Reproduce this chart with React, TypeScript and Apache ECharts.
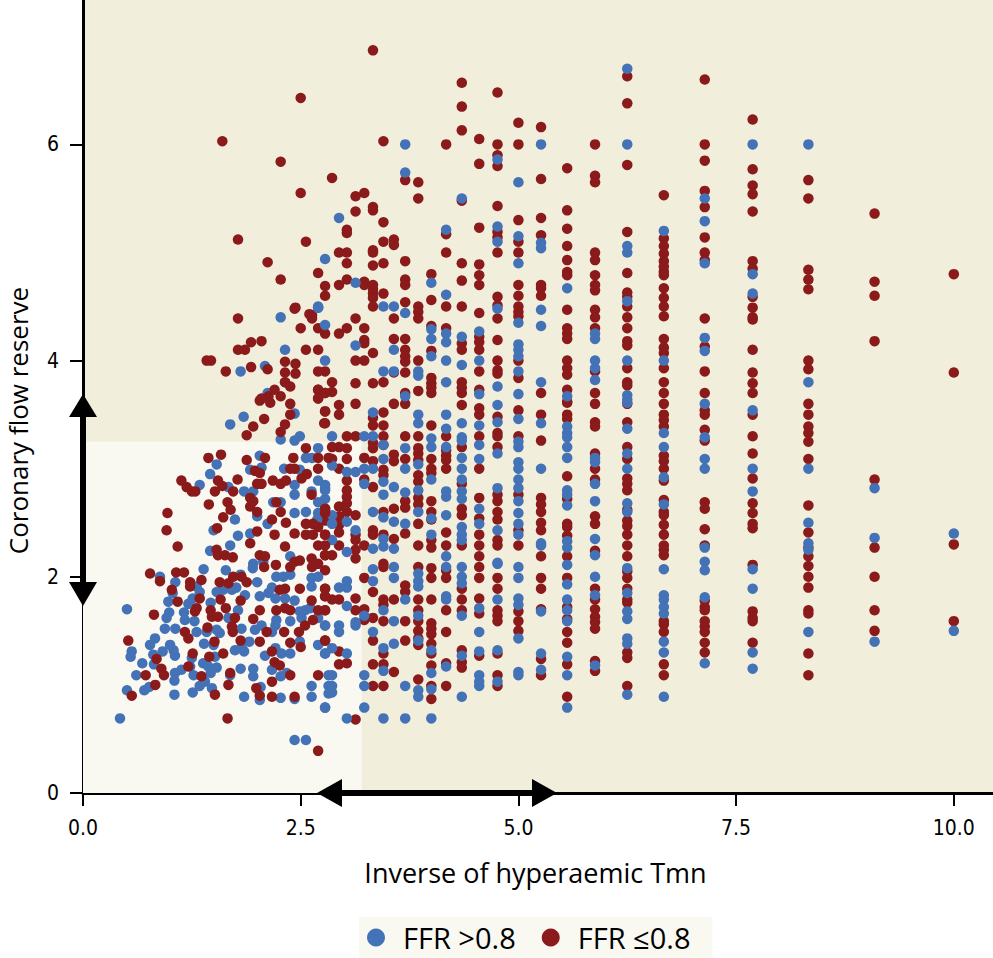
import React, { useEffect, useRef } from "react";
import * as echarts from "echarts";

const columnX = [10, 9.09, 8.33, 7.69, 7.14, 6.67, 6.25, 5.88, 5.56, 5.26, 5, 4.76, 4.55, 4.35, 4.17, 4, 3.85, 3.7, 3.57, 3.45, 3.33, 3.23, 3.13, 3.03, 2.94, 2.86, 2.78, 2.7, 2.63, 2.56, 2.5, 2.44];

const redByColumn = [
  [4.8, 3.89, 2.3, 1.59],
  [5.36, 4.73, 4.6, 4.18, 2.9, 2.27, 2.0, 1.69, 1.5],
  [5.67, 5.5, 4.84, 4.75, 4.66, 4.0, 3.92, 3.6, 3.5, 3.39, 3.33, 3.25, 3.09, 2.66, 2.41, 2.27, 2.19, 2.1, 2.0, 1.9, 1.69, 1.66, 1.29, 1.09],
  [6.23, 5.77, 5.62, 5.54, 5.38, 4.92, 4.85, 4.59, 4.49, 4.4, 4.38, 4.1, 3.89, 3.79, 3.7, 3.5, 3.3, 3.14, 2.91, 2.68, 2.59, 2.49, 2.45, 2.11, 1.68, 1.62, 1.59, 1.39],
  [6.6, 6.0, 5.85, 5.57, 5.42, 5.14, 5.0, 4.93, 4.39, 4.13, 3.9, 3.7, 3.54, 3.5, 3.36, 3.26, 2.69, 2.63, 2.44, 2.29, 1.78, 1.72, 1.69, 1.59, 1.54, 1.49, 1.39, 1.3],
  [5.53, 5.13, 5.06, 4.99, 4.92, 4.87, 4.82, 4.79, 4.67, 4.58, 4.5, 4.41, 4.2, 4.12, 4.07, 3.93, 3.8, 3.7, 3.6, 3.5, 3.45, 3.39, 3.12, 3.07, 3.0, 2.89, 2.71, 2.6, 2.57, 2.48, 2.39, 2.29, 2.25, 2.2, 1.59, 1.56, 1.49, 1.19, 1.09],
  [6.63, 6.38, 5.81, 5.19, 4.81, 4.63, 4.59, 4.5, 4.4, 4.3, 4.18, 4.14, 3.93, 3.8, 3.77, 3.6, 3.43, 3.2, 3.09, 2.91, 2.86, 2.8, 2.62, 2.52, 2.47, 2.39, 2.29, 2.19, 2.05, 1.99, 1.89, 1.79, 1.76, 1.3, 1.25, 0.99],
  [6.0, 5.71, 5.65, 5.0, 4.93, 4.79, 4.7, 4.65, 4.47, 4.4, 4.3, 3.9, 3.7, 3.6, 3.43, 3.39, 3.14, 3.0, 2.9, 2.56, 2.49, 2.24, 1.89, 1.79, 1.7, 1.63, 1.58, 1.52, 1.22, 1.13],
  [5.78, 5.39, 5.22, 5.06, 4.93, 4.82, 4.79, 4.47, 4.3, 4.25, 4.2, 4.0, 3.93, 3.87, 3.73, 3.62, 3.61, 3.5, 3.46, 2.93, 2.72, 2.49, 2.46, 2.38, 2.19, 1.99, 1.72, 1.61, 1.49, 1.39, 1.19, 0.89],
  [6.16, 5.68, 5.32, 5.16, 4.7, 4.67, 4.6, 3.7, 3.5, 3.26, 2.73, 2.67, 2.6, 2.5, 2.43, 2.19, 1.99, 1.89, 1.7, 1.24, 1.09],
  [6.2, 6.0, 5.3, 5.1, 5.0, 4.7, 4.6, 4.5, 4.45, 4.41, 4.0, 3.84, 3.54, 3.3, 2.76, 2.43, 2.29, 1.68, 1.59, 1.5],
  [6.48, 6.0, 5.9, 5.8, 5.43, 5.19, 5.14, 5.0, 4.59, 4.51, 4.39, 4.19, 4.0, 3.91, 3.88, 3.48, 3.33, 3.3, 3.2, 2.76, 2.7, 2.6, 2.53, 2.34, 2.29, 1.99, 1.89, 1.69, 1.64, 1.59, 1.29, 1.09, 0.99],
  [6.05, 5.82, 5.23, 4.89, 4.79, 4.7, 4.44, 4.22, 4.17, 4.1, 3.9, 3.73, 3.56, 3.5, 3.3, 3.0, 2.73, 2.54, 2.39, 2.29, 2.19, 2.09, 1.99, 1.8, 1.66, 1.27],
  [6.57, 6.35, 6.13, 5.48, 4.9, 4.74, 4.5, 4.16, 4.1, 3.8, 3.75, 3.7, 3.59, 3.2, 2.86, 2.63, 2.57, 2.29, 1.89, 1.79, 1.69, 1.32, 1.21, 1.16],
  [6.0, 5.17, 5.0, 4.5, 4.3, 3.3, 3.17, 3.12, 3.08, 3.0, 2.41, 2.29, 2.06, 1.99, 1.69, 1.49, 1.2, 0.99],
  [4.8, 4.56, 4.32, 4.09, 3.84, 3.79, 3.75, 3.7, 3.4, 3.09, 3.0, 2.96, 2.7, 2.6, 2.53, 2.34, 2.27, 2.08, 1.99, 1.79, 1.57, 1.52, 1.47, 1.38, 1.29, 1.18, 0.99, 0.87],
  [5.65, 5.5, 4.5, 4.45, 4.39, 4.0, 3.72, 3.3, 3.19, 3.14, 3.08, 2.94, 2.88, 2.73, 2.67, 2.49, 2.29, 2.09, 1.79, 1.69, 1.59, 1.5, 1.43, 1.37, 1.05],
  [5.67, 4.92, 4.75, 4.7, 4.54, 4.2, 4.1, 4.04, 3.99, 3.89, 3.7, 3.6, 3.3, 3.09, 2.7, 2.64, 2.4, 1.92, 1.86, 1.59, 1.41],
  [5.12, 5.07, 4.39, 4.2, 3.89, 3.6, 3.13, 3.07, 2.63, 2.35, 1.79, 1.12],
  [6.03, 5.28, 5.1, 4.9, 4.62, 3.8, 3.52, 3.4, 3.3, 3.22, 2.99, 2.94, 2.6, 2.39, 2.12, 2.09, 1.79, 1.74, 1.59, 1.29, 1.19, 0.99],
  [6.87, 5.42, 5.39, 5.02, 5.0, 4.88, 4.7, 4.66, 4.62, 4.58, 4.5, 4.07, 3.79, 3.47, 3.4, 3.24, 3.19, 3.07, 2.83, 2.43, 2.39, 1.86, 1.62, 1.41, 1.19, 0.99],
  [5.55, 4.73, 4.7, 4.3, 4.19, 4.16, 4.0, 3.1, 2.9, 2.29, 1.99, 1.7, 1.6],
  [5.52, 5.38, 4.39, 4.0, 3.79, 3.6, 3.3, 2.57, 2.39, 2.34, 2.25, 2.17, 1.8, 1.69, 0.68],
  [5.21, 5.18, 5.0, 4.9, 4.75, 4.3, 3.3, 3.19, 3.09, 2.89, 2.8, 2.74, 2.68, 2.6, 1.2],
  [5.0, 4.7, 4.25, 3.59, 3.5, 3.2, 3.0, 2.65, 2.56, 2.48, 2.41, 2.29, 1.79, 1.31, 1.19],
  [5.69, 3.8, 3.71, 3.2, 3.09, 2.2, 1.79],
  [4.69, 4.6, 4.25, 3.9, 3.7, 3.53, 3.42, 2.63, 2.6, 2.52, 2.39, 2.2, 2.06, 1.89, 1.82, 1.69, 1.41],
  [4.81, 4.3, 4.1, 3.9, 3.73, 3.65],
  [4.42, 4.39],
  [5.1, 4.1],
  [6.43, 5.55, 4.3],
  [4.49, 3.97, 3.88],
];

const blueByColumn = [
  [2.4, 1.5],
  [2.82, 2.36, 1.4],
  [6.0, 3.8, 3.0, 2.5, 2.31, 2.25, 1.49],
  [6.0, 4.8, 4.62, 3.54, 3.0, 2.79, 2.07, 1.89, 1.3, 1.15],
  [5.5, 5.29, 4.9, 4.21, 4.09, 3.6, 3.29, 3.09, 3.0, 2.27, 2.14, 2.06, 1.81, 1.2],
  [5.2, 4.0, 3.33, 3.2, 2.92, 2.67, 2.07, 1.83, 1.79, 1.72, 1.66, 1.4, 1.3, 0.89],
  [6.7, 6.0, 5.06, 5.0, 4.55, 4.0, 3.68, 3.64, 3.61, 3.37, 3.14, 3.0, 2.68, 2.6, 2.08, 1.85, 1.68, 1.61, 1.43, 1.38, 0.91],
  [4.25, 4.2, 4.0, 3.93, 3.82, 3.1, 3.06, 2.86, 2.7, 2.35, 2.2, 2.0, 1.83, 1.18],
  [4.67, 3.67, 3.39, 3.33, 3.29, 3.2, 3.1, 2.8, 2.76, 2.66, 2.33, 2.27, 2.11, 1.93, 1.79, 1.69, 1.59, 1.26, 1.09, 0.79],
  [6.0, 5.09, 5.04, 4.47, 4.32, 3.8, 3.42, 3.0, 2.31, 2.29, 1.68, 1.29, 1.14],
  [5.65, 5.15, 4.9, 4.35, 4.15, 4.1, 4.04, 3.9, 3.69, 3.46, 3.25, 3.2, 3.06, 3.0, 2.9, 2.82, 2.7, 2.59, 2.49, 2.39, 2.09, 1.99, 1.8, 1.74, 1.43, 1.12, 1.09],
  [5.86, 5.24, 5.1, 4.48, 3.76, 3.59, 3.43, 3.14, 2.82, 2.43, 2.13, 2.12, 1.79, 1.32, 1.03],
  [4.27, 4.0, 3.69, 3.4, 3.22, 3.09, 2.63, 2.49, 1.71, 1.49, 1.31, 1.09, 1.03, 0.99],
  [5.5, 4.22, 3.96, 3.42, 3.29, 3.26, 3.1, 3.0, 2.9, 2.79, 2.72, 2.46, 2.39, 2.34, 2.09, 2.0, 1.94, 1.64, 1.27, 0.89],
  [5.21, 4.61, 4.25, 4.17, 4.0, 3.8, 3.5, 3.37, 3.2, 2.79, 2.74, 2.57, 2.19, 2.09, 1.82, 1.79, 1.17],
  [4.72, 4.29, 4.2, 4.04, 3.28, 3.2, 2.9, 2.54, 2.39, 1.32, 1.11, 0.96, 0.69],
  [3.9, 3.86, 3.5, 3.42, 3.04, 2.8, 2.6, 2.03, 1.96, 1.91, 1.64, 1.41, 0.95, 0.89],
  [6.0, 5.74, 4.44, 3.67, 3.19, 3.0, 2.78, 2.49, 1.79, 0.99, 0.69],
  [4.5, 4.1, 3.9, 2.83, 2.51, 2.26, 2.09, 1.99, 1.59, 1.38],
  [4.5, 3.9, 3.22, 3.09, 2.88, 2.76, 2.55, 2.35, 2.28, 1.69, 1.34, 1.13, 0.69],
  [3.52, 3.3, 3.0, 2.6, 2.26, 2.07, 1.96, 1.49],
  [3.3, 3.0, 2.86, 1.64, 1.09, 0.99, 0.79],
  [4.72, 4.14, 2.97, 2.43, 1.58, 1.55],
  [2.97, 2.51, 2.23, 1.96, 1.9, 1.73, 1.29, 0.69],
  [5.32, 1.9, 1.55, 1.49],
  [3.3, 3.03, 2.57, 2.49, 2.34, 1.34, 1.09, 0.99, 0.93],
  [4.94, 4.33, 4.0, 2.85, 2.8, 2.72, 1.55, 1.29, 0.79],
  [4.5, 4.49],
  [],
  [],
  [],
  [],
];

const redLeft = [
  [0.56, 0.9], [0.52, 1.41], [0.815, 1.65], [0.72, 1.09], [0.83, 1.0], [0.845, 1.24], [0.9, 1.15], [0.93, 1.09], [0.77, 2.03], [0.884, 1.96],
  [1.07, 2.04], [1.16, 2.04], [0.97, 2.59], [0.96, 2.43], [1.087, 2.28], [1.13, 2.89], [1.19, 2.83], [1.25, 2.79], [1.29, 2.79], [1.02, 1.88],
  [1.087, 1.77], [1.23, 1.95], [1.23, 1.91], [1.36, 1.97], [1.34, 1.8], [1.305, 1.71], [1.286, 1.68], [1.17, 1.49], [1.21, 1.43], [1.26, 1.29],
  [1.21, 1.17], [1.36, 1.08], [1.515, 0.91], [1.67, 1.0], [1.69, 1.11], [1.45, 1.26], [1.51, 1.4], [1.43, 1.53], [1.61, 1.29], [1.466, 1.69],
  [1.48, 1.63], [1.55, 1.63], [1.58, 1.79], [1.64, 1.71], [1.57, 1.95], [1.67, 1.94], [1.725, 2.0], [1.82, 2.0], [1.88, 1.95], [1.81, 1.78],
  [1.745, 1.62], [1.71, 1.54], [1.72, 1.49], [1.81, 1.41], [2.03, 1.4], [1.44, 3.1], [1.585, 3.13], [1.55, 2.89], [1.6, 2.84], [1.515, 2.79],
  [1.725, 2.79], [1.775, 2.9], [1.445, 2.67], [1.66, 2.69], [1.695, 2.62], [1.61, 2.55], [1.54, 2.45], [1.535, 2.25], [1.55, 2.2], [1.63, 2.2],
  [1.72, 2.18], [1.88, 3.08], [2.09, 3.1], [1.975, 2.98], [2.03, 2.96], [2.0, 2.86], [2.05, 2.86], [2.18, 2.89], [2.27, 2.86], [2.33, 2.89],
  [1.92, 2.73], [1.955, 2.7], [1.92, 2.65], [2.0, 2.6], [2.22, 2.69], [2.27, 2.6], [2.17, 2.53], [2.33, 2.5], [2.0, 2.42], [2.2, 2.39],
  [2.43, 2.4], [1.92, 2.31], [2.32, 2.28], [2.03, 2.2], [2.09, 2.19], [2.08, 2.09], [2.215, 2.11], [2.38, 2.09], [2.43, 2.14], [2.49, 2.15],
  [2.625, 2.17], [2.7, 2.12], [2.63, 2.09], [2.78, 2.2], [2.32, 1.89], [2.26, 1.88], [2.49, 1.89], [2.78, 1.89], [2.78, 1.82], [2.625, 1.78],
  [2.22, 1.69], [2.32, 1.71], [2.38, 1.69], [2.7, 1.69], [2.78, 1.69], [1.955, 1.61], [2.03, 1.69], [2.11, 1.49], [2.31, 1.49], [2.48, 1.49],
  [2.55, 1.55], [2.64, 1.6], [2.78, 1.41], [2.38, 1.39], [2.5, 1.35], [2.17, 1.31], [2.2, 1.21], [2.26, 1.18], [2.38, 1.09], [2.17, 1.03],
  [1.99, 0.97], [2.03, 0.9], [2.17, 0.89], [2.43, 0.89], [2.7, 1.09], [1.66, 0.69], [2.7, 0.39], [2.03, 3.63], [2.13, 3.67], [2.27, 3.67],
  [2.38, 3.76], [2.38, 3.6], [2.38, 3.5], [2.08, 3.46], [2.32, 3.41], [1.955, 3.39], [1.88, 3.31], [2.27, 3.34], [2.7, 3.73], [2.7, 3.65],
  [2.78, 3.7], [2.78, 3.53], [2.77, 3.42], [2.56, 3.19], [2.415, 3.1], [2.7, 3.1], [2.82, 3.1], [2.7, 3.0], [2.38, 3.0], [2.43, 3.0],
  [2.51, 2.91], [2.57, 2.95], [2.625, 2.76], [2.78, 2.63], [2.78, 2.59], [2.56, 2.49], [2.64, 2.49], [2.7, 2.46], [2.56, 2.39], [2.64, 2.39],
  [2.78, 2.39], [2.7, 2.29], [2.78, 2.29], [1.6, 6.03], [2.27, 5.84], [1.78, 5.12], [2.12, 4.91], [2.27, 4.75], [1.78, 4.39], [1.93, 4.17],
  [2.05, 4.18], [1.42, 4.0], [1.47, 4.0], [1.64, 3.9], [1.78, 4.1], [1.86, 4.1], [1.93, 3.94], [2.12, 3.92], [2.32, 3.99], [2.32, 3.89],
  [2.32, 3.8], [2.43, 4.48], [2.6, 4.43], [2.05, 3.65], [2.15, 3.61], [2.2, 3.73],
];

const blueLeft = [
  [0.425, 0.69], [0.505, 1.7], [0.505, 0.95], [0.559, 1.31], [0.547, 1.26], [0.681, 1.2], [0.612, 1.09], [0.704, 0.95], [0.76, 0.98], [0.77, 1.37],
  [0.827, 1.43], [0.807, 1.28], [0.815, 1.19], [0.915, 1.31], [1.0, 1.37], [1.04, 1.32], [1.056, 1.27], [0.94, 1.52], [1.06, 1.52], [0.96, 1.62],
  [0.99, 1.67], [0.98, 1.77], [1.03, 1.85], [1.06, 1.95], [0.884, 2.0], [1.16, 1.67], [1.17, 1.6], [1.28, 1.59], [1.21, 1.75], [1.26, 1.8],
  [1.305, 1.91], [1.34, 1.86], [1.385, 2.07], [1.056, 1.11], [1.05, 1.04], [1.13, 1.14], [1.05, 0.91], [1.26, 0.93], [1.34, 0.99], [1.4, 1.03],
  [1.48, 0.97], [1.27, 1.09], [1.23, 1.17], [1.25, 1.25], [1.38, 1.2], [1.44, 1.17], [1.535, 1.16], [1.466, 1.11], [1.515, 1.26], [1.39, 1.38],
  [1.5, 1.37], [1.305, 1.49], [1.42, 1.49], [1.535, 1.51], [1.57, 1.48], [1.466, 1.76], [1.535, 1.86], [1.61, 1.88], [1.71, 1.88], [1.76, 1.9],
  [1.81, 2.02], [1.64, 2.06], [1.69, 2.29], [1.46, 2.24], [1.5, 2.43], [1.745, 2.53], [1.78, 2.38], [1.92, 2.4], [2.0, 2.56], [2.12, 2.49],
  [1.69, 3.41], [1.845, 3.48], [2.12, 3.7], [2.32, 3.8], [2.43, 3.51], [2.27, 3.27], [2.43, 3.26], [2.49, 3.3], [1.535, 3.04], [1.46, 2.95],
  [1.34, 2.85], [1.67, 2.83], [1.85, 2.79], [1.955, 2.79], [1.92, 2.99], [2.03, 3.12], [2.05, 3.01], [2.31, 3.0], [2.49, 2.99], [2.56, 3.1],
  [2.63, 3.1], [2.7, 3.19], [2.43, 2.76], [2.43, 2.85], [2.625, 2.79], [2.7, 2.89], [2.78, 2.82], [2.7, 2.69], [2.185, 2.69], [2.27, 2.69],
  [2.43, 2.59], [2.56, 2.6], [2.7, 2.59], [2.69, 2.53], [1.955, 2.12], [1.95, 2.08], [2.07, 2.14], [2.38, 2.19], [2.22, 2.0], [2.3, 2.0],
  [2.38, 2.02], [2.0, 1.95], [2.17, 1.9], [2.03, 1.82], [2.13, 1.85], [2.21, 1.8], [2.32, 1.8], [2.43, 1.78], [2.625, 1.99], [2.7, 2.0],
  [2.625, 1.91], [1.78, 1.69], [1.86, 1.83], [1.67, 1.62], [1.82, 1.52], [1.975, 1.51], [2.05, 1.55], [2.22, 1.6], [2.21, 1.55], [2.38, 1.59],
  [2.17, 1.49], [2.49, 1.68], [2.55, 1.69], [2.51, 1.62], [2.61, 1.71], [2.7, 1.62], [2.78, 1.55], [1.745, 1.32], [1.82, 1.35], [1.85, 1.31],
  [1.91, 1.4], [2.09, 1.27], [2.21, 1.34], [2.28, 1.29], [2.38, 1.29], [2.49, 1.4], [2.7, 1.37], [2.78, 1.29], [1.81, 1.15], [1.955, 1.15],
  [1.955, 1.08], [2.17, 1.14], [2.27, 1.08], [2.34, 1.11], [1.69, 1.09], [1.85, 0.89], [2.03, 0.86], [2.04, 0.98], [2.27, 0.88], [2.43, 0.87],
  [2.625, 0.89], [2.625, 0.99], [2.78, 0.79], [2.43, 0.49], [2.56, 0.49], [2.82, 1.09], [2.82, 0.99], [2.82, 0.92], [2.27, 4.4], [1.81, 3.9],
  [2.09, 3.95], [2.32, 4.1], [2.7, 4.49],
];

const xTicks = [0, 2.5, 5, 7.5, 10];
const yTicks = [0, 2, 4, 6];
const zoneX = 3.2;
const zoneY = 3.25;
const blueName = "FFR >0.8";
const redName = "FFR \u22640.8";
const xTitle = "Inverse of hyperaemic Tmn";
const yTitle = "Coronary flow reserve";

const BLUE = "#4472b6";
const RED = "#8b1a1b";
const INK = "#000";
const TICK_FONT = "'DejaVu Sans Condensed'";
const TITLE_FONT = "'Open Sans'";

function points(byColumn: number[][]) {
  const out: number[][] = [];
  byColumn.forEach((ys, i) => ys.forEach((y) => out.push([columnX[i], y])));
  return out;
}

export default function App() {
  const ref = useRef<HTMLDivElement>(null);
  useEffect(() => {
    const chart = echarts.init(ref.current!, null, { renderer: "svg" });
    const arrow = { fill: "#000" };
    const dot = { type: "scatter", symbolSize: 10.5 };
    chart.setOption({
      animation: false,
      backgroundColor: "#fff",
      grid: { left: 83, right: 0, top: 0, bottom: 165, outerBoundsMode: "none", show: true, backgroundColor: "#f2eedc", borderWidth: 0 },
      legend: {
        left: 359,
        top: 917,
        padding: [3, 22, 3, 8],
        itemGap: 26,
        itemWidth: 18,
        itemHeight: 18,
        backgroundColor: "#f9f8f1",
        data: [
          { name: blueName, icon: "circle" },
          { name: redName, icon: "circle" },
        ],
        textStyle: { fontFamily: TITLE_FONT, fontSize: 29, color: INK, padding: [0, 0, 0, 13], lineHeight: 35 },
      },
      xAxis: {
        type: "value",
        min: 0,
        max: 10.45,
        splitLine: { show: false },
        name: xTitle,
        nameLocation: "middle",
        nameGap: 66,
        nameTextStyle: { fontFamily: TITLE_FONT, fontSize: 27, color: INK, padding: [0, 5, 0, 0] },
        axisLine: { show: true, lineStyle: { color: INK, width: 3 } },
        axisTick: { show: true, length: 13, customValues: xTicks, lineStyle: { color: INK, width: 2 } },
        axisLabel: {
          customValues: xTicks,
          formatter: (v: number) => v.toFixed(1),
          fontFamily: TICK_FONT,
          fontSize: 21,
          color: INK,
          margin: 24,
        },
      },
      yAxis: {
        type: "value",
        min: 0,
        max: 7.336,
        splitLine: { show: false },
        name: yTitle,
        nameLocation: "middle",
        nameGap: 47,
        nameTextStyle: { fontFamily: TITLE_FONT, fontSize: 26, color: INK, lineHeight: 36, padding: [0, 48, 0, 0] },
        axisLine: { show: true, lineStyle: { color: INK, width: 3 } },
        axisTick: { show: true, length: 13, customValues: yTicks, lineStyle: { color: INK, width: 2 } },
        axisLabel: {
          customValues: yTicks,
          fontFamily: TICK_FONT,
          fontSize: 21,
          color: INK,
          margin: 24,
        },
      },
      series: [
        {
          type: "scatter",
          name: "zone",
          data: [],
          silent: true,
          z: 1,
          markArea: {
            silent: true,
            itemStyle: { color: "#f9f8f1" },
            data: [[{ coord: [0, 0] }, { coord: [zoneX, zoneY] }]],
          },
        },
        { ...dot, name: redName, itemStyle: { color: RED, opacity: 1 }, data: points(redByColumn), z: 2 },
        { ...dot, name: blueName, itemStyle: { color: BLUE, opacity: 1 }, data: points(blueByColumn).concat(blueLeft), z: 3 },
        { ...dot, name: redName, itemStyle: { color: RED, opacity: 1 }, data: redLeft, z: 4 },
      ],
      graphic: [
        { type: "rect", z: 100, shape: { x: 80, y: 410, width: 6, height: 175 }, style: arrow },
        { type: "polygon", z: 100, shape: { points: [[83, 394], [69, 417], [97, 417]] }, style: arrow },
        { type: "polygon", z: 100, shape: { points: [[83, 606], [69, 582], [97, 582]] }, style: arrow },
        { type: "rect", z: 100, shape: { x: 335, y: 790, width: 205, height: 6 }, style: arrow },
        { type: "polygon", z: 100, shape: { points: [[317, 793], [342, 779], [342, 807]] }, style: arrow },
        { type: "polygon", z: 100, shape: { points: [[557, 793], [532, 779], [532, 807]] }, style: arrow },
      ],
    });
    return () => chart.dispose();
  }, []);
  return <div ref={ref} style={{ position: "fixed", left: 0, top: 0, width: 993, height: 958 }} />;
}
